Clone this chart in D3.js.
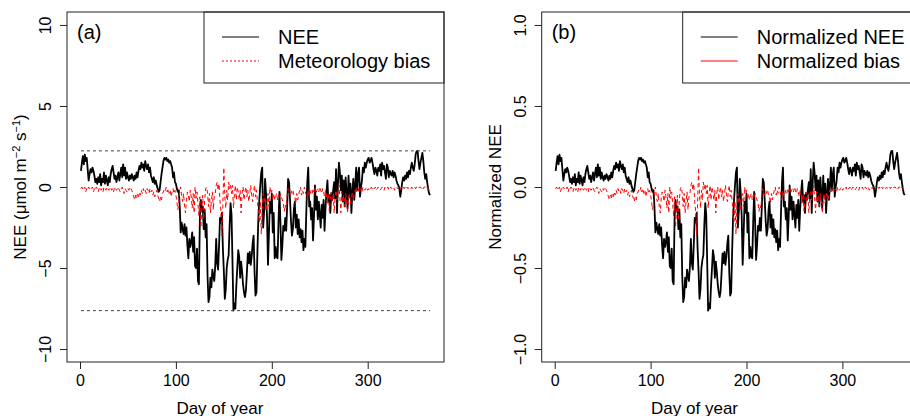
<!DOCTYPE html>
<html>
<head>
<meta charset="utf-8">
<script src="https://cdn.jsdelivr.net/npm/d3@7"></script>
<style>
  body { margin: 0; background: #fff; }
  svg { display: block; font-family: "Liberation Sans", Arial, Helvetica, sans-serif; }
</style>
</head>
<body>
<svg id="chart" width="910" height="416"></svg>
<script>
// daily NEE (umol m-2 s-1), day 1..365
const nee = [
  1.0, 1.5, 1.9, 1.4, 2.0, 1.6, 1.8, 1.1, 0.4, 0.8,
  1.1, 0.9, 1.2, 1.0, 0.7, 0.3, 0.5, 0.2, 0.6, 0.3,
  0.8, 0.1, 0.5, 0.3, 0.9, 0.2, 0.7, 0.4, 0.1, 0.6,
  0.3, 0.8, 1.1, 1.3, 0.9, 0.5, 0.7, 0.3, 0.6, 0.9,
  0.4, 0.8, 1.2, 0.6, 1.4, 0.7, 1.2, 0.5, 0.9, 0.6,
  0.4, 0.7, 0.5, 0.8, 0.6, 0.4, 0.7, 0.5, 0.9, 0.6,
  1.0, 1.3, 1.1, 1.5, 1.2, 1.4, 1.0, 1.6, 1.3, 1.1,
  1.4, 0.9, 1.2, 0.7, 0.5, 0.3, 0.6, 0.2, 0.4, 0.1,
  -0.1, -0.3, -0.2, 0.3, 0.8, 1.2, 1.6, 1.8, 1.7, 1.8,
  1.6, 1.7, 1.5, 1.6, 1.4, 1.2, 0.6, 0.9, 0.3, 0.2,
  -0.1, -0.3, -0.2, -1.2, -2.8, -2.2, -2.6, -2.9, -2.3, -3.0,
  -2.5, -3.6, -4.4, -3.2, -3.7, -3.4, -2.8, -4.0, -3.1, -4.9,
  -5.0, -3.8, -5.8, -6.0, -1.9, -0.8, -1.5, -1.2, -2.6, -1.4,
  -3.1, -2.3, -5.5, -7.1, -6.8, -5.6, -6.2, -5.1, -5.5, -5.8,
  -4.9, -3.2, -4.7, -5.1, -3.6, -1.9, -2.2, -1.6, -3.8, -5.2,
  -6.9, -6.3, -5.0, -4.5, -4.2, -2.4, -1.0, -1.7, -4.6, -7.63,
  -7.2, -7.5, -6.1, -5.0, -3.9, -4.3, -5.6, -4.6, -5.2, -6.0,
  -6.5, -6.8, -6.4, -5.3, -4.1, -4.7, -4.0, -4.8, -4.3, -3.5,
  -3.0, -5.2, -6.7, -6.5, -4.0, -1.9, -0.8, 0.1, 0.9, 1.2,
  -2.5, -1.5, 0.5, -0.4, -1.8, -4.8, -2.9, -0.9, -1.6, -0.4,
  -2.8, -1.6, -4.4, -3.7, -4.3, -4.4, -2.1, -0.3, -2.2, -4.5,
  -3.6, -2.4, -2.7, -1.9, -2.7, -1.2, 0.5, 0.3, -0.8, -2.1,
  -3.0, -2.6, -1.4, -0.9, -2.5, -1.7, -2.9, -2.0, -3.1, -2.6,
  -3.4, -2.7, -3.9, -3.2, -3.7, -1.5, 0.3, 1.2, -1.2, -0.9,
  -2.0, -1.3, -3.3, -1.8, 0.1, -1.4, -0.6, -2.0, -0.9, -1.7,
  -2.5, -1.1, -1.9, -0.8, -2.7, -1.3, -0.3, 0.4, -0.9, -0.5,
  -1.6, -0.4, -0.8, -0.2, 0.3, -0.7, 1.1, -1.6, 0.2, 1.5,
  0.9, -0.2, 0.7, -0.9, 0.4, -1.2, 0.6, -0.4, -1.3, 0.7,
  -0.6, 0.2, -1.6, -0.3, 0.5, -0.8, 0.1, 1.2, -0.2, 0.8,
  1.2, -0.6, 0.0, 0.4, 1.2, 0.9, 1.5, 1.2, 1.5, 1.7,
  1.8, 1.5, 1.6, 1.8, 1.5, 1.1, 0.8, 1.2, 1.0, 0.7,
  1.2, 1.0, 1.4, 0.7, 1.5, 1.1, 1.3, 0.9, 0.5, 1.4,
  1.2, 0.6, 1.0, 0.8, 0.7, 1.0, 0.6, 0.9, 0.7, 0.4,
  0.2, 0.1, -0.1, -0.6, -0.2, 0.3, 0.6, 0.4, 0.7, 0.5,
  0.9, 0.6, 1.0, 0.8, 1.2, 1.5, 1.2, 1.0, 1.4, 2.0,
  2.2, 2.23, 1.6, 1.1, 1.5, 1.8, 2.1, 1.6, 0.9, 0.5,
  0.8, 0.3, -0.1, -0.4, -0.5
];

// daily meteorology bias, same units
const metBias = [
  -0.1, 0.0, -0.2, -0.1, 0.0, -0.3, -0.1, -0.2, 0.0, -0.1,
  -0.2, -0.1, 0.0, -0.3, -0.1, -0.2, 0.0, -0.1, -0.3, -0.1,
  0.0, -0.2, -0.1, -0.3, 0.0, -0.1, -0.2, 0.0, -0.1, -0.2,
  -0.1, 0.0, -0.2, -0.1, -0.3, 0.0, -0.1, -0.2, -0.1, 0.0,
  -0.2, -0.3, -0.1, 0.0, -0.2, -0.4, -0.1, -0.2, -0.3, -0.1,
  -0.2, 0.0, -0.1, -0.2, -0.4, -0.6, -0.8, -0.5, -0.7, -0.4,
  -0.6, -0.3, -0.5, -0.2, -0.4, -0.1, -0.3, -0.2, -0.4, -0.1,
  -0.2, -0.4, -0.1, -0.3, -0.2, -0.5, -0.3, -0.6, -0.4, -0.2,
  -0.5, -0.7, -0.9, -0.6, -0.8, -0.4, -0.3, -0.1, -0.2, 0.0,
  -0.3, -0.1, -0.4, -0.2, -0.6, -0.3, -0.1, -0.4, -0.2, -0.5,
  -0.9, -1.4, -1.0, -0.3, 0.0, -0.6, -0.9, -0.4, -1.2, -1.6,
  -0.8, -0.3, -0.5, -0.9, -0.2, -0.6, -1.3, -0.4, -1.6, 0.0,
  -0.7, -0.3, -1.0, -1.8, -0.6, -2.5, -1.4, -0.5, -2.0, -0.8,
  -0.1, 0.0, -0.4, -1.2, -0.4, -1.6, -0.9, -0.3, -1.4, -0.6,
  -0.4, 0.1, 0.3, -0.2, 0.2, -0.9, -1.5, -3.0, -1.0, 1.2,
  -0.6, -1.3, -0.2, -0.8, 0.3, -0.1, 0.2, -0.4, 0.1, -1.3,
  -0.5, 0.1, -0.8, 0.0, -0.3, -0.8, -0.2, -1.6, -0.4, 0.0,
  -0.8, -0.3, 0.0, -0.6, -0.2, -0.9, -0.4, 0.1, -0.5, -0.9,
  -0.3, 0.1, -0.6, -0.2, -0.9, -1.6, -2.2, -0.9, -2.9, -1.2,
  -0.4, -1.0, -0.6, -1.5, -0.9, -0.4, -1.2, 0.0, -0.4, -0.2,
  -0.8, -0.4, -0.8, -0.6, -0.4, -0.8, -0.5, -0.7, -0.4, -0.6,
  -0.8, -1.0, -1.5, -1.1, -1.3, -0.5, -0.1, -0.3, -0.5, -0.2,
  -0.4, -0.2, -0.5, -0.6, -1.0, -0.4, -0.8, -0.5, -0.2, 0.0,
  -0.5, -0.2, -0.4, 0.0, -0.3, -0.5, -0.8, -0.2, -0.6, -0.4,
  -0.2, -0.4, -0.1, -0.3, 0.0, -0.4, -0.2, -0.1, -0.3, 0.0,
  -0.2, -0.4, -0.1, -0.3, -0.6, -0.2, -0.5, -1.0, -0.4, -1.5,
  -0.6, -0.3, -0.9, -0.4, -1.6, -0.5, -0.2, -0.8, -0.3, 0.1,
  -0.6, -1.6, -0.3, -0.9, -0.5, -1.2, -0.4, -0.8, -1.6, -0.7,
  -0.4, -1.0, -0.6, -0.3, -0.8, -0.5, -0.2, -0.4, -0.1, -0.3,
  0.0, -0.2, -0.1, -0.3, 0.0, -0.1, -0.2, -0.1, 0.0, -0.2,
  -0.1, -0.2, -0.1, 0.0, -0.2, -0.1, -0.1, 0.0, -0.2, -0.1,
  0.0, -0.1, -0.2, -0.1, 0.0, -0.1, -0.2, 0.0, -0.1, -0.1,
  0.0, -0.2, -0.1, 0.0, -0.1, -0.1, 0.0, -0.2, -0.1, 0.0,
  -0.1, 0.0, -0.1, -0.2, 0.0, -0.1, 0.0, -0.1, 0.0, -0.1,
  0.0, -0.1, 0.0, 0.0, -0.1, 0.0, -0.1, 0.0, 0.0, -0.1,
  0.0, 0.0, -0.1, 0.0, 0.0, -0.1, 0.0, -0.1, 0.0, 0.0,
  -0.1, 0.0, -0.1, -0.2, -0.3
];

// panel (b) is the same series divided by the normalisation constant
const normFactor = 10;

const xTicks = [0, 100, 200, 300];
const yTicksA = [-10, -5, 0, 5, 10];
const yTicksB = [-1, -0.5, 0, 0.5, 1];

const days = d3.range(1, nee.length + 1);

const svg = d3.select('#chart');
const plotTop = 12;
const plotBottom = 362;
const plotWidth = 377;
// R style: 4% padding around the data range
const dayPad = 0.04 * (days[days.length - 1] - days[0]);
const dayDomain = [days[0] - dayPad, days[days.length - 1] + dayPad];

const panel = cfg => {
  const x = d3.scaleLinear().domain(dayDomain).range([cfg.left, cfg.left + plotWidth]);
  const y = d3.scaleLinear().domain(cfg.yDomain).range([plotBottom, plotTop]);
  const g = svg.append('g');

  const line = d3.line()
    .x((_, i) => x(days[i]))
    .y(d => y(d));

  g.append('path')
    .datum(cfg.nee)
    .attr('d', line)
    .attr('fill', 'none')
    .attr('stroke', '#000')
    .attr('stroke-width', 1.8)
    .attr('stroke-linejoin', 'round');

  g.append('path')
    .datum(cfg.bias)
    .attr('d', line)
    .attr('fill', 'none')
    .attr('stroke', '#ff0000')
    .attr('stroke-width', 1)
    .attr('stroke-dasharray', '4,3');

  // max / min of NEE as dashed guides
  if (cfg.bounds) {
    g.selectAll('line.bound')
      .data([d3.max(cfg.nee), d3.min(cfg.nee)])
      .join('line')
      .attr('class', 'bound')
      .attr('x1', x(days[0]))
      .attr('x2', x(days[days.length - 1]))
      .attr('y1', d => y(d))
      .attr('y2', d => y(d))
      .attr('stroke', '#444')
      .attr('stroke-width', 1)
      .attr('stroke-dasharray', '3,3');
  }

  // legend
  const lgRight = cfg.left + plotWidth;
  const lg = g.append('g');
  lg.append('rect')
    .attr('x', cfg.legendLeft)
    .attr('y', plotTop)
    .attr('width', lgRight - cfg.legendLeft)
    .attr('height', 71)
    .attr('fill', '#fff')
    .attr('stroke', '#222');
  const rows = lg.selectAll('g.row')
    .data(cfg.legend)
    .join('g')
    .attr('class', 'row')
    .attr('transform', (_, i) => `translate(${cfg.legendLeft},${37 + i * 24})`);
  rows.append('line')
    .attr('x1', 18).attr('x2', 55)
    .attr('stroke', d => d.color)
    .attr('stroke-width', 1)
    .attr('stroke-dasharray', d => d.dash);
  rows.append('text')
    .attr('x', 74)
    .attr('y', 7)
    .attr('font-size', 20)
    .text(d => d.label);

  // box
  g.append('rect')
    .attr('x', cfg.left)
    .attr('y', plotTop)
    .attr('width', plotWidth)
    .attr('height', plotBottom - plotTop)
    .attr('fill', 'none')
    .attr('stroke', '#222');

  // axes
  const gx = g.append('g')
    .attr('transform', `translate(0,${plotBottom})`)
    .call(d3.axisBottom(x).tickValues(xTicks).tickSize(7).tickPadding(6).tickSizeOuter(0));
  gx.select('.domain').remove();
  gx.attr('font-family', null).attr('font-size', 16).attr('color', '#222');
  gx.selectAll('text').attr('fill', '#000');

  const gy = g.append('g')
    .attr('transform', `translate(${cfg.left},0)`)
    .call(d3.axisLeft(y).tickValues(cfg.ticks).tickFormat(cfg.fmt).tickSize(7).tickSizeOuter(0));
  gy.select('.domain').remove();
  gy.attr('font-family', null).attr('font-size', 16).attr('color', '#222');
  gy.selectAll('text')
    .attr('fill', '#000')
    .attr('x', 0)
    .attr('dy', null)
    .attr('text-anchor', 'middle')
    .attr('transform', 'translate(-16,0) rotate(-90)');

  // titles
  g.append('text')
    .attr('x', x(0) + (x(300) - x(0)) / 2 - 4)
    .attr('y', 414)
    .attr('text-anchor', 'middle')
    .attr('font-size', 17)
    .text('Day of year');

  const yt = g.append('text')
    .attr('transform', `translate(${cfg.left - 41},${(plotTop + plotBottom) / 2}) rotate(-90)`)
    .attr('text-anchor', 'middle')
    .attr('font-size', 17);
  cfg.yTitle(yt);

  g.append('text')
    .attr('x', cfg.left + 10)
    .attr('y', 39)
    .attr('font-size', 20)
    .text(cfg.tag);
};

panel({
  left: 67,
  legendLeft: 204,
  yDomain: [-10.8, 10.8],
  ticks: yTicksA,
  fmt: d3.format('d'),
  nee: nee,
  bias: metBias,
  bounds: true,
  tag: '(a)',
  legend: [
    { label: 'NEE', color: '#000', dash: null },
    { label: 'Meteorology bias', color: '#ff0000', dash: '2,2' }
  ],
  yTitle: t => {
    t.append('tspan').text('NEE (\u03bcmol m');
    t.append('tspan').attr('dy', -6).attr('font-size', 11).text('\u22122');
    t.append('tspan').attr('dy', 6).text(' s');
    t.append('tspan').attr('dy', -6).attr('font-size', 11).text('\u22121');
    t.append('tspan').attr('dy', 6).text(')');
  }
});

panel({
  left: 541.7,
  legendLeft: 682.7,
  yDomain: [-1.08, 1.08],
  ticks: yTicksB,
  fmt: d3.format('.1f'),
  nee: nee.map(v => v / normFactor),
  bias: metBias.map(v => v / normFactor),
  bounds: false,
  tag: '(b)',
  legend: [
    { label: 'Normalized NEE', color: '#000', dash: null },
    { label: 'Normalized bias', color: '#ff0000', dash: null }
  ],
  yTitle: t => t.text('Normalized NEE')
});
</script>
</body>
</html>
